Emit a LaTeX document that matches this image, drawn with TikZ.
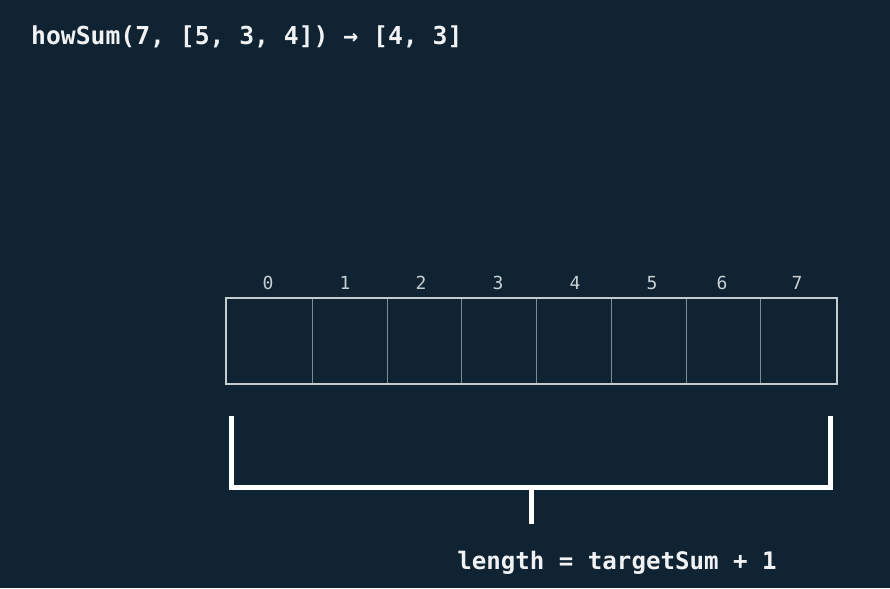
\documentclass[tikz,border=0pt]{standalone}
\usepackage{fontspec}
\setmonofont{DejaVu Sans Mono}
\definecolor{bg}{RGB}{16,35,51}
\definecolor{txt}{RGB}{240,242,244}
\definecolor{idx}{RGB}{200,208,212}
\definecolor{outer}{RGB}{196,204,208}
\definecolor{inner}{RGB}{125,140,150}
\tikzset{
  cell/.style={draw=inner, line width=1pt, minimum height=85pt, inner sep=0pt},
  idxlabel/.style={text=idx, font=\ttfamily\fontsize{18}{18}\selectfont, inner sep=0pt},
  bigtext/.style={text=txt, font=\ttfamily\bfseries\fontsize{24.7}{24.7}\selectfont, inner sep=0pt},
  bracket/.style={draw=white, line width=5pt}
}
\begin{document}
\begin{tikzpicture}[x=1pt,y=-1pt]
\fill[bg] (0,0) rectangle (890,588);
\useasboundingbox (0,0) rectangle (890,588);
\node[bigtext, anchor=west] (title) at (31,37) {howSum(7, [5, 3, 4]) → [4, 3]};
% cells
\node[cell, minimum width=86pt] (c0) at (269,341) {};
\node[cell, minimum width=75pt] (c1) at (349.5,341) {};
\node[cell, minimum width=74pt] (c2) at (424,341) {};
\node[cell, minimum width=75pt] (c3) at (498.5,341) {};
\node[cell, minimum width=75pt] (c4) at (573.5,341) {};
\node[cell, minimum width=75pt] (c5) at (648.5,341) {};
\node[cell, minimum width=74pt] (c6) at (723,341) {};
\node[cell, minimum width=76pt] (c7) at (798,341) {};
\draw[outer, line width=2pt] (c0.north west) rectangle (c7.south east);
\node[idxlabel] (i0) at (268,283) {0};
\node[idxlabel] (i1) at (345,283) {1};
\node[idxlabel] (i2) at (421,283) {2};
\node[idxlabel] (i3) at (498,283) {3};
\node[idxlabel] (i4) at (575,283) {4};
\node[idxlabel] (i5) at (652,283) {5};
\node[idxlabel] (i6) at (722,283) {6};
\node[idxlabel] (i7) at (797,283) {7};
% bracket
\coordinate (bl) at (231,416);
\coordinate (br) at (830,416);
\coordinate (bm) at (531,487);
\coordinate (bs) at (531,524);
\draw[bracket] (bl) -- (231,487) -- (830,487) -- (br);
\node[bigtext, font=\ttfamily\bfseries\fontsize{24.1}{24.1}\selectfont] (len) at (617,563) {length = targetSum + 1};
\draw[bracket] (bm) -- (bs);
\end{tikzpicture}
\end{document}
